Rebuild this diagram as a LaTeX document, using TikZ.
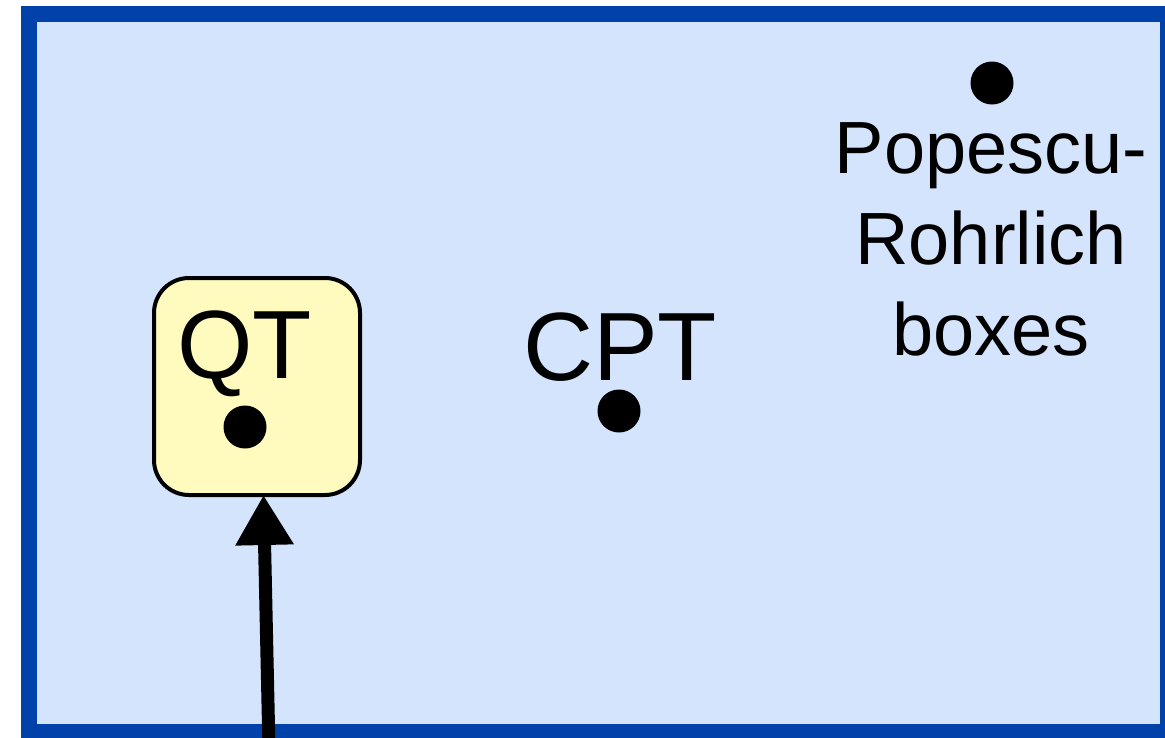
\documentclass[tikz,border=0pt]{standalone}
\usepackage{fontspec}
\setmainfont{Liberation Sans}
\usetikzlibrary{arrows.meta}
\definecolor{frameblue}{RGB}{0,65,170}
\definecolor{panelblue}{RGB}{212,228,252}
\definecolor{qtyellow}{RGB}{255,251,190}
\tikzset{
  panel/.style={draw=frameblue, fill=panelblue, line width=16pt},
  qtbox/.style={draw=black, fill=qtyellow, line width=4pt, rounded corners=35pt,
    minimum width=206pt, minimum height=217pt, inner sep=0pt},
  pointdot/.style={circle, fill=black, inner sep=0pt, minimum size=43pt},
  biglabel/.style={font=\fontsize{97}{116}\selectfont, inner sep=0pt, anchor=base},
  prlabel/.style={font=\fontsize{74}{91}\selectfont, inner sep=0pt, align=center},
  bigarrow/.style={-{Triangle[length=50pt,width=55pt]}, line width=13pt, black}
}
\begin{document}
\begin{tikzpicture}[x=1pt,y=-1pt]
  \useasboundingbox (0,0) rectangle (1165,737);
  \clip (0,0) rectangle (1165,737);
  % outer panel
  \draw[panel] (29,14) rectangle (1168,732);
  % QT box with its point
  \node[qtbox] (qt) at (257,386.5) {};
  \node[biglabel] (qtlabel) at (244.5,378) {QT};
  \node[pointdot] (qtdot) at (245,427) {};
  % CPT point
  \node[biglabel] (cptlabel) at (620,380) {CPT};
  \node[pointdot] (cptdot) at (619,411) {};
  % Popescu-Rohrlich boxes point (base anchor sits on the last line)
  \node[pointdot] (prdot) at (992,83) {};
  \node[prlabel, anchor=base] (prlabel) at (991,355) {Popescu-\\Rohrlich\\boxes};
  % arrow coming up into the QT box
  \coordinate (arrowstart) at (269,750);
  \draw[bigarrow] (arrowstart) -- ([xshift=6.5pt,yshift=2pt]qt.south);
\end{tikzpicture}
\end{document}
